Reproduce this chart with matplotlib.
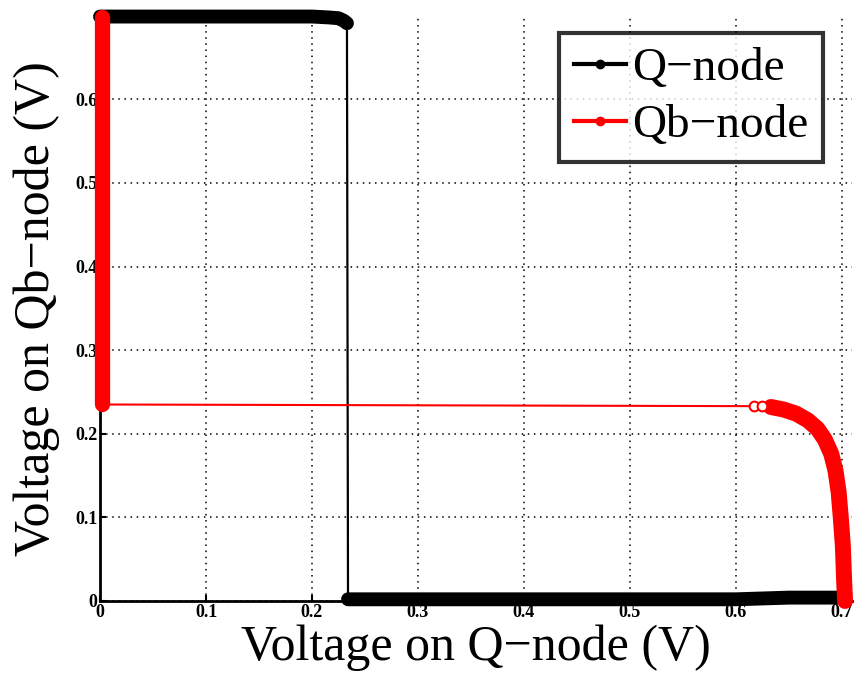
import matplotlib
matplotlib.use("Agg")
import matplotlib.pyplot as plt
from matplotlib.lines import Line2D

# Q-node curve (x = V(Q), y = V(Qb)), high plateau then low plateau
q_top_x = [0.000, 0.050, 0.100, 0.150, 0.200, 0.215, 0.225, 0.230, 0.233]
q_top_y = [0.699, 0.699, 0.699, 0.699, 0.699, 0.698, 0.697, 0.694, 0.691]
q_bot_x = [0.234, 0.300, 0.400, 0.500, 0.600, 0.650, 0.700]
q_bot_y = [0.002, 0.002, 0.002, 0.002, 0.002, 0.004, 0.004]

# Qb-node curve, left plateau then the bend on the right
qb_left_x = [0.002, 0.002, 0.002, 0.002, 0.002, 0.002]
qb_left_y = [0.699, 0.600, 0.500, 0.400, 0.300, 0.235]
qb_right_x = [0.617, 0.625, 0.633, 0.645, 0.657, 0.668, 0.677, 0.684, 0.690, 0.694,
              0.697, 0.699, 0.701, 0.702, 0.703]
qb_right_y = [0.233, 0.233, 0.232, 0.229, 0.224, 0.216, 0.206, 0.193, 0.176, 0.156,
              0.130, 0.100, 0.065, 0.030, 0.000]

x_ticks = [0, 0.1, 0.2, 0.3, 0.4, 0.5, 0.6, 0.7]
y_ticks = [0, 0.1, 0.2, 0.3, 0.4, 0.5, 0.6]
tick_labels_x = ["0", "0.1", "0.2", "0.3", "0.4", "0.5", "0.6", "0.7"]
tick_labels_y = ["0", "0.1", "0.2", "0.3", "0.4", "0.5", "0.6"]

serif = "Liberation Serif"

fig = plt.figure(figsize=(8.55, 6.77), dpi=100)
ax = fig.add_axes([0.117, 0.1123, 0.880, 0.8645])

# thin connecting lines (the jumps), then thick dense parts
ax.plot(q_top_x + q_bot_x, q_top_y + q_bot_y, color="black", lw=1.6, clip_on=False, zorder=3)
ax.plot(qb_left_x + qb_right_x, qb_left_y + qb_right_y, color="red", lw=1.5, clip_on=False, zorder=4)

thick = 10
ax.plot(q_top_x, q_top_y, color="black", lw=thick, solid_capstyle="round",
        solid_joinstyle="round", clip_on=False, zorder=3)
ax.plot(q_bot_x, q_bot_y, color="black", lw=thick, solid_capstyle="round",
        solid_joinstyle="round", clip_on=False, zorder=3)
ax.plot(qb_left_x, qb_left_y, color="red", lw=thick + 1, solid_capstyle="round",
        solid_joinstyle="round", clip_on=False, zorder=4)
ax.plot(qb_right_x[2:], qb_right_y[2:], color="red", lw=thick + 1.5, solid_capstyle="round",
        solid_joinstyle="round", clip_on=False, zorder=4)
ax.plot(qb_right_x[:2], qb_right_y[:2], "o", color="red", mfc="white", ms=7, mew=1.5,
        clip_on=False, zorder=4)

ax.set_xlim(0, 0.71)
ax.set_ylim(0, 0.7)
ax.set_xticks(x_ticks)
ax.set_yticks(y_ticks)
ax.set_xticklabels(tick_labels_x, fontfamily=serif, fontweight="bold", fontsize=13)
ax.set_yticklabels(tick_labels_y, fontfamily=serif, fontweight="bold", fontsize=13)
ax.tick_params(direction="in", length=4, width=1.5, pad=2)

ax.spines["top"].set_visible(False)
ax.spines["right"].set_visible(False)
ax.spines["left"].set_linewidth(2)
ax.spines["bottom"].set_linewidth(2)

ax.grid(True, color="black", linestyle=(0, (1, 3)), lw=1.1)
ax.set_axisbelow(True)

ax.set_xlabel("Voltage on Q\u2212node (V)", fontfamily=serif, fontsize=36, labelpad=3)
ax.set_ylabel("Voltage on Qb\u2212node (V)", fontfamily=serif, fontsize=36, labelpad=11)

handles = [
    Line2D([0], [0], color="black", lw=3, marker="o", ms=6),
    Line2D([0], [0], color="red", lw=3, marker="o", ms=6),
]
leg = fig.legend(handles, ["Q\u2212node", "Qb\u2212node"], loc="upper right",
                 bbox_to_anchor=(0.9626, 0.9513), prop={"family": serif, "size": 34},
                 frameon=True, fancybox=False, handlelength=1.1, handletextpad=0.15,
                 borderpad=0.3, labelspacing=0.3, borderaxespad=0)
leg.get_frame().set_edgecolor("black")
leg.get_frame().set_linewidth(3)
leg.set_zorder(10)

fig.savefig("out.png", dpi=100)
